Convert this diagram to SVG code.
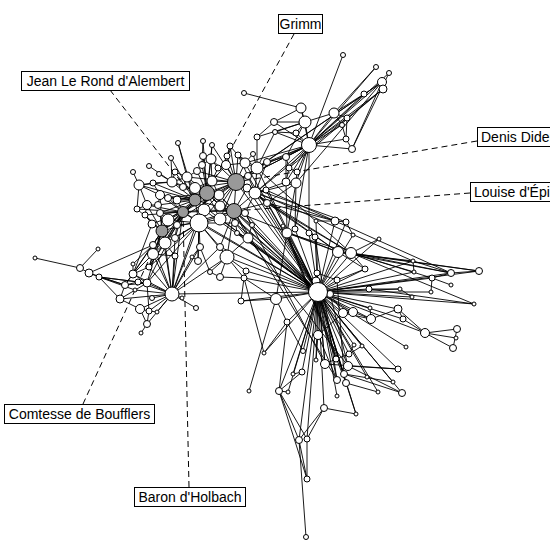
<svg xmlns="http://www.w3.org/2000/svg" width="550" height="550" viewBox="0 0 550 550">
<style>
.e path{stroke:#000;stroke-width:0.9;fill:none}
.d path{stroke:#000;stroke-width:1;stroke-dasharray:6,4;fill:none}
circle{fill:#fff;stroke:#000;stroke-width:1}
circle.g{fill:#999}
rect{fill:#fff;stroke:#000;stroke-width:1}
text{font-family:"Liberation Sans",Arial,sans-serif;font-size:14px;fill:#000}
</style>
<rect x="0" y="0" width="550" height="550" style="stroke:none"/>
<g id="connectors" class="e">
<path d="M236,182L207,193"/><path d="M236,182L195,200"/><path d="M236,182L234,211"/><path d="M236,182L183,212"/><path d="M236,182L162,231"/><path d="M207,193L195,200"/><path d="M207,193L234,211"/><path d="M207,193L183,212"/><path d="M207,193L162,231"/><path d="M195,200L234,211"/><path d="M195,200L183,212"/><path d="M195,200L162,231"/><path d="M234,211L183,212"/><path d="M234,211L162,231"/><path d="M183,212L162,231"/>
<path d="M236,182L255,193"/><path d="M236,182L257,168"/><path d="M236,182L245,163"/><path d="M236,182L248,176"/><path d="M236,182L247,188"/><path d="M236,182L212,181"/><path d="M236,182L219,195"/><path d="M236,182L226,165"/><path d="M236,182L230,146"/><path d="M236,182L238,155"/><path d="M236,182L267,162"/><path d="M236,182L199,223"/><path d="M236,182L220,219"/><path d="M236,182L220,206"/><path d="M236,182L267,203"/><path d="M236,182L197,171"/><path d="M236,182L187,177"/><path d="M236,182L211,159"/><path d="M236,182L212,145"/><path d="M236,182L227,156"/><path d="M236,182L195,188"/>
<path d="M207,193L195,188"/><path d="M207,193L212,181"/><path d="M207,193L219,195"/><path d="M207,193L199,223"/><path d="M207,193L204,210"/><path d="M207,193L211,159"/><path d="M207,193L202,165"/><path d="M207,193L197,171"/><path d="M207,193L187,177"/><path d="M207,193L172,182"/><path d="M207,193L203,141"/><path d="M207,193L212,145"/><path d="M207,193L203,156"/><path d="M207,193L220,206"/><path d="M207,193L220,219"/><path d="M207,193L177,200"/><path d="M207,193L168,198"/><path d="M207,193L183,187"/>
<path d="M195,200L195,188"/><path d="M195,200L199,223"/><path d="M195,200L204,210"/><path d="M195,200L172,182"/><path d="M195,200L160,195"/><path d="M195,200L168,198"/><path d="M195,200L158,205"/><path d="M195,200L177,200"/><path d="M195,200L139,185"/><path d="M195,200L153,183"/><path d="M195,200L175,172"/><path d="M195,200L171,158"/><path d="M195,200L178,143"/><path d="M195,200L168,220"/><path d="M195,200L165,243"/><path d="M195,200L160,213"/><path d="M195,200L187,177"/>
<path d="M234,211L199,223"/><path d="M234,211L220,219"/><path d="M234,211L235,223"/><path d="M234,211L248,238"/><path d="M234,211L220,206"/><path d="M234,211L255,193"/><path d="M234,211L267,203"/><path d="M234,211L245,213"/><path d="M234,211L247,188"/><path d="M234,211L252,225"/><path d="M234,211L237,233"/><path d="M234,211L227,257"/><path d="M234,211L220,247"/><path d="M234,211L204,210"/><path d="M234,211L219,195"/>
<path d="M183,212L199,223"/><path d="M183,212L204,210"/><path d="M183,212L160,213"/><path d="M183,212L168,220"/><path d="M183,212L177,225"/><path d="M183,212L147,205"/><path d="M183,212L137,209"/><path d="M183,212L145,215"/><path d="M183,212L152,224"/><path d="M183,212L168,198"/><path d="M183,212L160,195"/><path d="M183,212L165,243"/><path d="M183,212L175,238"/><path d="M183,212L153,254"/><path d="M183,212L172,294"/><path d="M183,212L177,200"/>
<path d="M162,231L168,220"/><path d="M162,231L152,224"/><path d="M162,231L153,245"/><path d="M162,231L165,243"/><path d="M162,231L147,205"/><path d="M162,231L145,215"/><path d="M162,231L137,209"/><path d="M162,231L153,254"/><path d="M162,231L133,274"/><path d="M162,231L147,283"/><path d="M162,231L125,285"/><path d="M162,231L172,294"/><path d="M162,231L160,195"/><path d="M162,231L160,213"/><path d="M162,231L149,267"/>
<path d="M199,223L204,210"/><path d="M199,223L220,219"/><path d="M199,223L177,225"/><path d="M199,223L175,238"/><path d="M199,223L200,247"/><path d="M199,223L220,247"/><path d="M199,223L168,220"/><path d="M199,223L227,257"/><path d="M199,223L165,243"/><path d="M199,223L198,261"/><path d="M199,223L235,223"/>
<path d="M255,193L257,168"/><path d="M255,193L247,188"/><path d="M255,193L248,176"/><path d="M255,193L267,203"/><path d="M255,193L266,190"/><path d="M255,193L267,162"/><path d="M255,193L296,183"/>
<path d="M257,168L245,163"/><path d="M257,168L253,154"/><path d="M257,168L267,162"/><path d="M257,168L248,176"/><path d="M257,168L238,155"/><path d="M257,168L257,137"/><path d="M257,168L275,132"/>
<path d="M245,163L238,155"/><path d="M245,163L253,154"/><path d="M245,163L230,146"/><path d="M245,163L226,165"/>
<path d="M211,159L202,165"/><path d="M211,159L203,156"/><path d="M211,159L212,145"/><path d="M211,159L218,168"/><path d="M211,159L212,181"/>
<path d="M187,177L175,172"/><path d="M187,177L197,171"/><path d="M187,177L172,182"/><path d="M187,177L183,187"/><path d="M187,177L195,188"/><path d="M187,177L178,143"/>
<path d="M172,182L175,172"/><path d="M172,182L159,174"/><path d="M172,182L153,183"/><path d="M172,182L183,187"/><path d="M172,182L139,185"/><path d="M172,182L149,166"/><path d="M172,182L171,158"/>
<path d="M139,185L133,172"/><path d="M139,185L153,183"/><path d="M139,185L147,205"/><path d="M139,185L160,195"/><path d="M139,185L137,209"/>
<path d="M160,195L158,205"/><path d="M160,195L168,198"/><path d="M160,195L153,183"/><path d="M147,205L137,209"/><path d="M147,205L145,215"/><path d="M147,205L158,205"/>
<path d="M212,181L218,168"/><path d="M212,181L226,165"/><path d="M212,181L195,188"/><path d="M219,195L220,206"/><path d="M219,195L204,210"/><path d="M219,195L212,181"/>
<path d="M203,141L202,165"/><path d="M230,146L226,165"/><path d="M230,146L227,156"/><path d="M238,155L248,176"/><path d="M248,238L235,223"/><path d="M248,238L252,225"/><path d="M248,238L237,233"/><path d="M220,247L227,257"/><path d="M200,247L192,257"/><path d="M245,213L255,193"/><path d="M245,213L252,225"/><path d="M160,213L168,220"/><path d="M152,224L145,215"/><path d="M153,245L165,243"/><path d="M175,238L177,225"/>
<path d="M318,292L236,182"/><path d="M318,292L234,211"/><path d="M318,292L255,193"/><path d="M318,292L267,203"/><path d="M318,292L245,213"/><path d="M318,292L248,238"/><path d="M318,292L220,219"/><path d="M318,292L199,223"/><path d="M318,292L252,225"/><path d="M318,292L237,233"/><path d="M318,292L227,257"/><path d="M318,292L257,168"/><path d="M318,292L247,188"/><path d="M318,292L220,206"/><path d="M318,292L235,223"/><path d="M318,292L220,247"/><path d="M318,292L207,193"/><path d="M318,292L204,210"/><path d="M318,292L245,163"/><path d="M318,292L266,190"/><path d="M318,292L183,212"/><path d="M318,292L219,195"/><path d="M318,292L172,294"/><path d="M318,292L246,271"/><path d="M318,292L244,278"/><path d="M318,292L195,200"/><path d="M318,292L248,176"/>
<path d="M338,252L413,261"/><path d="M338,252L451,273"/><path d="M338,252L479,271"/><path d="M351,253L414,272"/><path d="M351,253L432,278"/><path d="M351,253L451,273"/><path d="M351,253L479,271"/><path d="M351,253L474,304"/><path d="M236,182L351,253"/><path d="M255,193L338,252"/><path d="M267,203L338,252"/><path d="M267,203L351,253"/><path d="M257,168L351,253"/><path d="M287,233L338,252"/><path d="M287,233L351,253"/><path d="M234,211L338,252"/><path d="M236,182L346,222"/><path d="M255,193L335,221"/><path d="M267,203L335,221"/><path d="M247,188L413,261"/><path d="M266,190L451,273"/>
<path d="M309,145L305,122"/><path d="M309,145L301,108"/><path d="M309,145L334,113"/><path d="M309,145L347,118"/><path d="M309,145L342,125"/><path d="M309,145L346,139"/><path d="M309,145L352,149"/><path d="M309,145L382,82"/><path d="M309,145L383,89"/><path d="M309,145L389,73"/><path d="M309,145L376,67"/><path d="M309,145L364,94"/><path d="M309,145L343,55"/><path d="M309,145L286,157"/><path d="M309,145L289,168"/><path d="M309,145L297,172"/><path d="M309,145L286,182"/><path d="M309,145L296,183"/><path d="M309,145L296,133"/><path d="M309,145L275,132"/><path d="M309,145L274,122"/><path d="M309,145L309,233"/><path d="M309,145L257,168"/><path d="M309,145L267,162"/><path d="M309,145L255,193"/><path d="M309,145L236,182"/><path d="M309,145L245,163"/><path d="M309,145L295,229"/><path d="M309,145L248,176"/>
<path d="M236,182L382,82"/><path d="M255,193L383,89"/><path d="M296,183L382,82"/><path d="M289,168L383,89"/><path d="M257,168L382,82"/>
<path d="M305,122L301,108"/><path d="M305,122L274,122"/><path d="M305,122L296,133"/><path d="M305,122L275,132"/><path d="M305,122L334,113"/><path d="M305,122L286,157"/><path d="M305,122L257,137"/><path d="M301,108L244,93"/><path d="M301,108L274,122"/><path d="M334,113L347,118"/><path d="M334,113L342,125"/><path d="M334,113L376,67"/><path d="M347,118L346,139"/><path d="M342,125L346,139"/><path d="M346,139L352,149"/><path d="M352,149L382,82"/><path d="M352,149L389,73"/><path d="M364,94L334,113"/><path d="M286,157L289,168"/><path d="M286,157L286,182"/><path d="M286,157L267,162"/><path d="M289,168L297,172"/><path d="M289,168L286,182"/><path d="M286,182L296,183"/><path d="M286,182L255,193"/><path d="M286,182L287,233"/><path d="M296,183L297,172"/><path d="M296,183L287,233"/><path d="M296,183L295,229"/><path d="M296,183L267,203"/><path d="M274,122L257,137"/><path d="M296,133L275,132"/>
<path d="M318,292L287,233"/><path d="M318,292L295,229"/><path d="M318,292L309,233"/><path d="M318,292L315,237"/><path d="M318,292L317,273"/><path d="M318,292L316,281"/><path d="M318,292L330,294"/><path d="M318,292L337,280"/><path d="M318,292L338,252"/><path d="M318,292L351,253"/><path d="M318,292L365,269"/><path d="M318,292L369,289"/><path d="M318,292L400,289"/><path d="M318,292L412,297"/><path d="M318,292L413,261"/><path d="M318,292L414,272"/><path d="M318,292L431,292"/><path d="M318,292L474,304"/><path d="M318,292L479,271"/><path d="M318,292L451,273"/><path d="M318,292L432,278"/><path d="M318,292L343,313"/><path d="M318,292L353,312"/><path d="M318,292L371,319"/><path d="M318,292L398,309"/><path d="M318,292L403,319"/><path d="M318,292L425,333"/><path d="M318,292L406,347"/><path d="M318,292L318,335"/><path d="M318,292L303,351"/><path d="M318,292L287,322"/><path d="M318,292L325,364"/><path d="M318,292L336,359"/><path d="M318,292L348,366"/><path d="M318,292L316,360"/><path d="M318,292L302,372"/><path d="M318,292L344,374"/><path d="M318,292L337,380"/><path d="M318,292L346,383"/><path d="M318,292L279,391"/><path d="M318,292L288,392"/><path d="M318,292L337,396"/><path d="M318,292L324,408"/><path d="M318,292L299,440"/><path d="M318,292L307,439"/><path d="M318,292L264,353"/><path d="M318,292L293,374"/><path d="M318,292L367,377"/><path d="M318,292L354,345"/><path d="M318,292L362,346"/><path d="M318,292L349,354"/><path d="M318,292L276,299"/><path d="M318,292L241,301"/><path d="M318,292L335,221"/><path d="M318,292L346,222"/><path d="M318,292L316,221"/><path d="M318,292L353,235"/><path d="M318,292L370,308"/><path d="M318,292L398,369"/><path d="M318,292L402,393"/><path d="M318,292L393,382"/><path d="M318,292L378,392"/><path d="M318,292L356,414"/><path d="M318,292L379,239"/>
<path d="M318,335L337,380"/><path d="M316,281L346,383"/><path d="M330,294L348,366"/><path d="M317,273L325,364"/><path d="M337,280L344,374"/><path d="M315,237L337,380"/><path d="M287,233L346,383"/><path d="M287,233L344,374"/><path d="M248,238L348,366"/><path d="M234,211L337,380"/><path d="M245,213L325,364"/><path d="M283,226L336,359"/>
<path d="M451,273L479,271"/><path d="M451,273L432,278"/><path d="M451,273L413,261"/><path d="M432,278L451,285"/><path d="M432,278L431,292"/><path d="M425,333L457,329"/><path d="M425,333L456,338"/><path d="M425,333L453,348"/><path d="M425,333L398,309"/><path d="M425,333L403,319"/><path d="M398,309L403,319"/><path d="M398,309L371,319"/><path d="M371,319L343,313"/><path d="M371,319L353,312"/><path d="M371,319L370,308"/><path d="M343,313L353,312"/><path d="M365,269L351,253"/><path d="M369,289L400,289"/><path d="M453,348L457,329"/><path d="M398,369L348,366"/><path d="M398,369L325,364"/><path d="M393,382L344,374"/><path d="M378,392L346,383"/><path d="M402,393L348,366"/><path d="M402,393L344,374"/><path d="M356,414L324,408"/><path d="M356,414L346,383"/><path d="M299,440L279,391"/><path d="M299,440L324,408"/><path d="M299,440L307,479"/><path d="M307,439L324,408"/><path d="M307,439L307,479"/><path d="M307,439L279,391"/><path d="M306,537L299,440"/><path d="M279,391L307,479"/><path d="M279,391L287,322"/><path d="M279,391L288,392"/><path d="M279,391L302,372"/><path d="M302,372L293,374"/><path d="M264,353L287,322"/><path d="M303,351L287,322"/><path d="M316,360L318,335"/><path d="M318,335L343,313"/><path d="M336,359L325,364"/><path d="M336,359L349,354"/><path d="M349,354L354,345"/><path d="M349,354L362,346"/><path d="M346,222L335,221"/><path d="M346,222L353,235"/><path d="M335,221L316,221"/><path d="M365,269L338,252"/><path d="M365,269L337,280"/><path d="M337,280L317,273"/><path d="M317,273L316,281"/><path d="M330,294L343,313"/><path d="M413,261L414,272"/><path d="M400,289L412,297"/><path d="M379,239L351,253"/><path d="M369,289L474,304"/>
<path d="M227,257L210,272"/><path d="M227,257L220,277"/><path d="M227,257L246,271"/><path d="M227,257L244,278"/><path d="M227,257L248,238"/><path d="M220,277L210,272"/><path d="M220,277L244,278"/><path d="M244,278L246,271"/><path d="M244,278L241,301"/><path d="M241,301L276,299"/><path d="M192,257L198,261"/><path d="M198,261L199,223"/><path d="M196,308L172,294"/><path d="M276,299L244,278"/><path d="M276,299L287,322"/><path d="M276,299L287,233"/><path d="M264,353L244,278"/><path d="M249,391L276,299"/><path d="M227,257L172,294"/><path d="M210,272L200,247"/>
<path d="M172,294L153,254"/><path d="M172,294L175,256"/><path d="M172,294L147,283"/><path d="M172,294L152,298"/><path d="M172,294L140,309"/><path d="M172,294L149,311"/><path d="M172,294L157,312"/><path d="M172,294L147,324"/><path d="M172,294L182,298"/><path d="M172,294L138,282"/><path d="M172,294L133,274"/><path d="M172,294L135,290"/><path d="M172,294L120,299"/><path d="M172,294L199,223"/><path d="M172,294L165,243"/><path d="M172,294L149,267"/><path d="M172,294L192,257"/><path d="M172,294L175,238"/><path d="M172,294L153,245"/><path d="M172,294L200,247"/><path d="M172,294L220,247"/><path d="M172,294L207,193"/>
<path d="M35,258L80,268"/><path d="M80,268L98,249"/><path d="M80,268L89,273"/><path d="M89,273L99,277"/><path d="M89,273L153,245"/><path d="M89,273L125,285"/><path d="M99,277L125,285"/><path d="M99,277L120,299"/><path d="M99,277L138,282"/><path d="M125,285L133,274"/><path d="M125,285L147,283"/><path d="M125,285L138,282"/><path d="M125,285L120,299"/><path d="M120,299L147,283"/><path d="M120,299L140,309"/><path d="M133,274L133,264"/><path d="M133,274L149,267"/><path d="M133,274L153,254"/><path d="M133,274L147,283"/><path d="M153,254L149,267"/><path d="M153,254L165,243"/><path d="M153,254L153,245"/><path d="M153,254L175,256"/><path d="M147,283L138,282"/><path d="M147,283L149,311"/><path d="M140,309L149,311"/><path d="M140,309L147,324"/><path d="M149,311L147,324"/><path d="M149,311L157,312"/><path d="M147,324L141,333"/><path d="M175,256L165,243"/><path d="M133,264L153,245"/><path d="M99,277L135,290"/><path d="M99,277L147,283"/><path d="M183,212L147,283"/><path d="M183,212L149,267"/><path d="M165,243L149,267"/><path d="M152,224L133,274"/><path d="M147,283L199,223"/><path d="M149,267L199,223"/>
</g>
<g id="label-lines" class="d">
<path d="M294,34L207,193"/>
<path d="M110,90L195,200"/>
<path d="M477,141L236,182"/>
<path d="M470,193L234,211"/>
<path d="M83,404L162,231"/>
<path d="M189,487L183,212"/>
</g>
<g id="nodes">
<g id="L1"><circle cx="178" cy="143" r="2.5"/></g>
<g id="L2"><circle cx="203" cy="141" r="2.5"/></g>
<g id="L3"><circle cx="212" cy="145" r="2.5"/></g>
<g id="L4"><circle cx="230" cy="146" r="3"/></g>
<g id="L5"><circle cx="238" cy="155" r="3"/></g>
<g id="L6"><circle cx="257" cy="137" r="3"/></g>
<g id="L7"><circle cx="275" cy="132" r="2.5"/></g>
<g id="L8"><circle cx="245" cy="163" r="5"/></g>
<g id="L9"><circle cx="253" cy="154" r="2.5"/></g>
<g id="L10"><circle cx="257" cy="168" r="6"/></g>
<g id="L11"><circle cx="267" cy="162" r="3.5"/></g>
<g id="L12"><circle cx="211" cy="159" r="5"/></g>
<g id="L13"><circle cx="202" cy="165" r="3.5"/></g>
<g id="L14"><circle cx="226" cy="165" r="4.5"/></g>
<g id="L15"><circle cx="218" cy="168" r="3"/></g>
<g id="L16"><circle cx="171" cy="158" r="2.5"/></g>
<g id="L17"><circle cx="149" cy="166" r="2.5"/></g>
<g id="L18"><circle cx="133" cy="172" r="2.5"/></g>
<g id="L19"><circle cx="159" cy="174" r="2.5"/></g>
<g id="L20"><circle cx="175" cy="172" r="3"/></g>
<g id="L21"><circle cx="187" cy="177" r="5"/></g>
<g id="L22"><circle cx="197" cy="171" r="3.5"/></g>
<g id="L23"><circle cx="139" cy="185" r="5"/></g>
<g id="L24"><circle cx="153" cy="183" r="3"/></g>
<g id="L25"><circle cx="172" cy="182" r="5"/></g>
<g id="L26"><circle cx="160" cy="195" r="4.5"/></g>
<g id="L27"><circle cx="168" cy="198" r="3.5"/></g>
<g id="L28"><circle cx="195" cy="188" r="5.5"/></g>
<g id="L29"><circle cx="212" cy="181" r="5"/></g>
<g id="L30"><circle cx="219" cy="195" r="5"/></g>
<g id="L31"><circle cx="248" cy="176" r="3.5"/></g>
<g id="L32"><circle cx="247" cy="188" r="4"/></g>
<g id="L33"><circle cx="255" cy="193" r="6"/></g>
<g id="L34"><circle cx="267" cy="203" r="3.5"/></g>
<g id="L35"><circle cx="245" cy="213" r="3.5"/></g>
<g id="L36"><circle cx="220" cy="206" r="5"/></g>
<g id="L37"><circle cx="204" cy="210" r="6"/></g>
<g id="L39"><circle cx="158" cy="205" r="3.5"/></g>
<g id="L40"><circle cx="147" cy="205" r="4.5"/></g>
<g id="L41"><circle cx="137" cy="209" r="3"/></g>
<g id="L42"><circle cx="160" cy="213" r="3.5"/></g>
<g id="L43"><circle cx="168" cy="220" r="6"/></g>
<g id="L44"><circle cx="152" cy="224" r="4"/></g>
<g id="L45"><circle cx="177" cy="225" r="3.5"/></g>
<g id="L46"><circle cx="199" cy="223" r="9"/></g>
<g id="L47"><circle cx="220" cy="219" r="6"/></g>
<g id="L48"><circle cx="248" cy="238" r="5"/></g>
<g id="L49"><circle cx="235" cy="223" r="3.5"/></g>
<g id="L50"><circle cx="153" cy="245" r="3.5"/></g>
<g id="L51"><circle cx="165" cy="243" r="6"/></g>
<g id="L52"><circle cx="175" cy="238" r="3.5"/></g>
<g id="L53"><circle cx="220" cy="247" r="3.5"/></g>
<g id="L54"><circle cx="200" cy="247" r="3.5"/></g>
<g id="L56"><circle cx="252" cy="225" r="2.5"/></g>
<g id="L57"><circle cx="237" cy="233" r="2.5"/></g>
<g id="L58"><circle cx="203" cy="156" r="3.5"/></g>
<g id="L59"><circle cx="227" cy="156" r="3"/></g>
<g id="L62"><circle cx="145" cy="215" r="3"/></g>
<g id="L64"><circle cx="177" cy="200" r="4"/></g>
<g id="L65"><circle cx="183" cy="187" r="3.5"/></g>
<g id="L66"><circle cx="266" cy="190" r="3"/></g>
<g id="grimm"><circle class="g" cx="207" cy="193" r="7.5"/></g>
<g id="alembert"><circle class="g" cx="195" cy="200" r="6"/></g>
<g id="diderot"><circle class="g" cx="236" cy="182" r="8.5"/></g>
<g id="epinay"><circle class="g" cx="234" cy="211" r="7.5"/></g>
<g id="holbach"><circle class="g" cx="183" cy="212" r="5.5"/></g>
<g id="boufflers"><circle class="g" cx="162" cy="231" r="6"/></g>
<g id="T1"><circle cx="244" cy="93" r="2.5"/></g>
<g id="T2"><circle cx="343" cy="55" r="2.5"/></g>
<g id="T3"><circle cx="376" cy="67" r="2.5"/></g>
<g id="T4"><circle cx="389" cy="73" r="2.5"/></g>
<g id="T5"><circle cx="382" cy="82" r="4.5"/></g>
<g id="T6"><circle cx="383" cy="89" r="4"/></g>
<g id="T7"><circle cx="364" cy="94" r="3"/></g>
<g id="T8"><circle cx="301" cy="108" r="5"/></g>
<g id="T9"><circle cx="334" cy="113" r="5"/></g>
<g id="T10"><circle cx="347" cy="118" r="3"/></g>
<g id="T11"><circle cx="305" cy="122" r="6"/></g>
<g id="T12"><circle cx="274" cy="122" r="3.5"/></g>
<g id="T13"><circle cx="342" cy="125" r="2.5"/></g>
<g id="T14"><circle cx="296" cy="133" r="3"/></g>
<g id="T15"><circle cx="346" cy="139" r="3"/></g>
<g id="T16"><circle cx="352" cy="149" r="3.5"/></g>
<g id="T17"><circle cx="309" cy="145" r="7.5"/></g>
<g id="T18"><circle cx="286" cy="157" r="3.5"/></g>
<g id="T19"><circle cx="289" cy="168" r="3"/></g>
<g id="T20"><circle cx="297" cy="172" r="3"/></g>
<g id="T21"><circle cx="286" cy="182" r="4"/></g>
<g id="T22"><circle cx="296" cy="183" r="5"/></g>
<g id="M1"><circle cx="283" cy="226" r="2"/></g>
<g id="M2"><circle cx="287" cy="233" r="5"/></g>
<g id="M3"><circle cx="295" cy="229" r="3"/></g>
<g id="M4"><circle cx="309" cy="233" r="3"/></g>
<g id="M5"><circle cx="315" cy="237" r="3"/></g>
<g id="M6"><circle cx="335" cy="221" r="4"/></g>
<g id="M7"><circle cx="316" cy="221" r="2"/></g>
<g id="M8"><circle cx="346" cy="222" r="3"/></g>
<g id="M9"><circle cx="353" cy="235" r="2"/></g>
<g id="M10"><circle cx="379" cy="239" r="2"/></g>
<g id="M11"><circle cx="338" cy="252" r="5.5"/></g>
<g id="M12"><circle cx="351" cy="253" r="5.5"/></g>
<g id="M13"><circle cx="413" cy="261" r="2"/></g>
<g id="M14"><circle cx="414" cy="272" r="2"/></g>
<g id="M15"><circle cx="451" cy="273" r="3.5"/></g>
<g id="M16"><circle cx="479" cy="271" r="3.5"/></g>
<g id="M17"><circle cx="432" cy="278" r="3"/></g>
<g id="M18"><circle cx="451" cy="285" r="2"/></g>
<g id="M19"><circle cx="431" cy="292" r="2"/></g>
<g id="M20"><circle cx="365" cy="269" r="3"/></g>
<g id="M21"><circle cx="337" cy="280" r="3"/></g>
<g id="M22"><circle cx="317" cy="273" r="3"/></g>
<g id="M23"><circle cx="316" cy="281" r="4"/></g>
<g id="M24"><circle cx="330" cy="294" r="3.5"/></g>
<g id="M25"><circle cx="369" cy="289" r="3"/></g>
<g id="M26"><circle cx="400" cy="289" r="2"/></g>
<g id="M27"><circle cx="412" cy="297" r="2"/></g>
<g id="M28"><circle cx="474" cy="304" r="2"/></g>
<g id="M29"><circle cx="276" cy="299" r="5.5"/></g>
<g id="M30"><circle cx="343" cy="313" r="4.5"/></g>
<g id="M31"><circle cx="353" cy="312" r="4.5"/></g>
<g id="M32"><circle cx="370" cy="308" r="2"/></g>
<g id="M33"><circle cx="371" cy="319" r="4.5"/></g>
<g id="M34"><circle cx="398" cy="309" r="4"/></g>
<g id="M35"><circle cx="403" cy="319" r="3"/></g>
<g id="M36"><circle cx="425" cy="333" r="4.5"/></g>
<g id="M37"><circle cx="457" cy="329" r="3.5"/></g>
<g id="M38"><circle cx="456" cy="338" r="2"/></g>
<g id="M39"><circle cx="453" cy="348" r="3.5"/></g>
<g id="M40"><circle cx="406" cy="347" r="2"/></g>
<g id="M41"><circle cx="287" cy="322" r="3"/></g>
<g id="M42"><circle cx="318" cy="335" r="4.5"/></g>
<g id="M43"><circle cx="264" cy="353" r="2"/></g>
<g id="M44"><circle cx="303" cy="351" r="2.5"/></g>
<g id="M45"><circle cx="349" cy="354" r="3"/></g>
<g id="M46"><circle cx="354" cy="345" r="2"/></g>
<g id="M47"><circle cx="362" cy="346" r="2"/></g>
<g id="M48"><circle cx="325" cy="364" r="4.5"/></g>
<g id="M49"><circle cx="336" cy="359" r="3"/></g>
<g id="M50"><circle cx="348" cy="366" r="4.5"/></g>
<g id="M51"><circle cx="316" cy="360" r="2"/></g>
<g id="M52"><circle cx="398" cy="369" r="3"/></g>
<g id="M53"><circle cx="302" cy="372" r="3"/></g>
<g id="M54"><circle cx="293" cy="374" r="2"/></g>
<g id="M55"><circle cx="344" cy="374" r="3.5"/></g>
<g id="M56"><circle cx="337" cy="380" r="3.5"/></g>
<g id="M57"><circle cx="346" cy="383" r="3.5"/></g>
<g id="M58"><circle cx="367" cy="377" r="2"/></g>
<g id="M59"><circle cx="393" cy="382" r="2"/></g>
<g id="M60"><circle cx="279" cy="391" r="3.5"/></g>
<g id="M61"><circle cx="288" cy="392" r="2"/></g>
<g id="M62"><circle cx="378" cy="392" r="2"/></g>
<g id="M63"><circle cx="402" cy="393" r="3.5"/></g>
<g id="M64"><circle cx="337" cy="396" r="2"/></g>
<g id="M65"><circle cx="249" cy="391" r="2"/></g>
<g id="M66"><circle cx="324" cy="408" r="3.5"/></g>
<g id="M67"><circle cx="356" cy="414" r="2"/></g>
<g id="M68"><circle cx="299" cy="440" r="3.5"/></g>
<g id="M69"><circle cx="307" cy="439" r="3"/></g>
<g id="M70"><circle cx="307" cy="479" r="3"/></g>
<g id="M71"><circle cx="306" cy="537" r="2.5"/></g>
<g id="B1"><circle cx="35" cy="258" r="2"/></g>
<g id="B2"><circle cx="80" cy="268" r="3.5"/></g>
<g id="B3"><circle cx="98" cy="249" r="2"/></g>
<g id="B4"><circle cx="89" cy="273" r="4"/></g>
<g id="B5"><circle cx="99" cy="277" r="3"/></g>
<g id="B6"><circle cx="125" cy="285" r="3.5"/></g>
<g id="B7"><circle cx="120" cy="299" r="4"/></g>
<g id="B8"><circle cx="133" cy="274" r="4"/></g>
<g id="B9"><circle cx="133" cy="264" r="2"/></g>
<g id="B10"><circle cx="153" cy="254" r="5.5"/></g>
<g id="B11"><circle cx="175" cy="256" r="3"/></g>
<g id="B12"><circle cx="147" cy="283" r="4"/></g>
<g id="B13"><circle cx="138" cy="282" r="3"/></g>
<g id="B14"><circle cx="135" cy="290" r="2"/></g>
<g id="B15"><circle cx="149" cy="267" r="3"/></g>
<g id="B16"><circle cx="172" cy="294" r="7"/></g>
<g id="B17"><circle cx="152" cy="298" r="2.5"/></g>
<g id="B18"><circle cx="140" cy="309" r="4.5"/></g>
<g id="B19"><circle cx="149" cy="311" r="3"/></g>
<g id="B20"><circle cx="157" cy="312" r="2"/></g>
<g id="B21"><circle cx="147" cy="324" r="3.5"/></g>
<g id="B22"><circle cx="141" cy="333" r="2"/></g>
<g id="B23"><circle cx="182" cy="298" r="2"/></g>
<g id="C1"><circle cx="227" cy="257" r="7"/></g>
<g id="C2"><circle cx="210" cy="272" r="2.5"/></g>
<g id="C3"><circle cx="220" cy="277" r="3.5"/></g>
<g id="C4"><circle cx="246" cy="271" r="3"/></g>
<g id="C5"><circle cx="244" cy="278" r="3"/></g>
<g id="C6"><circle cx="241" cy="301" r="3"/></g>
<g id="C7"><circle cx="192" cy="257" r="2"/></g>
<g id="C8"><circle cx="198" cy="261" r="3.5"/></g>
<g id="C9"><circle cx="196" cy="308" r="2.5"/></g>
<g id="H"><circle cx="318" cy="292" r="9.5"/></g>
</g>
<g id="labels">
<g id="lab-grimm"><rect x="278.5" y="14.5" width="44" height="19"/><text x="300.5" y="29" text-anchor="middle">Grimm</text></g>
<g id="lab-alembert"><rect x="21.5" y="71.5" width="168" height="19"/><text x="105.5" y="86" text-anchor="middle">Jean Le Rond d'Alembert</text></g>
<g id="lab-diderot"><rect x="477.5" y="127.5" width="100" height="19"/><text x="481" y="142">Denis Diderot</text></g>
<g id="lab-epinay"><rect x="470.5" y="182.5" width="115" height="19"/><text x="474" y="197">Louise d'Épinay</text></g>
<g id="lab-boufflers"><rect x="4.5" y="404.5" width="150" height="19"/><text x="79.5" y="419" text-anchor="middle">Comtesse de Boufflers</text></g>
<g id="lab-holbach"><rect x="134.5" y="487.5" width="111" height="19"/><text x="190" y="502" text-anchor="middle">Baron d'Holbach</text></g>
</g>
</svg>
